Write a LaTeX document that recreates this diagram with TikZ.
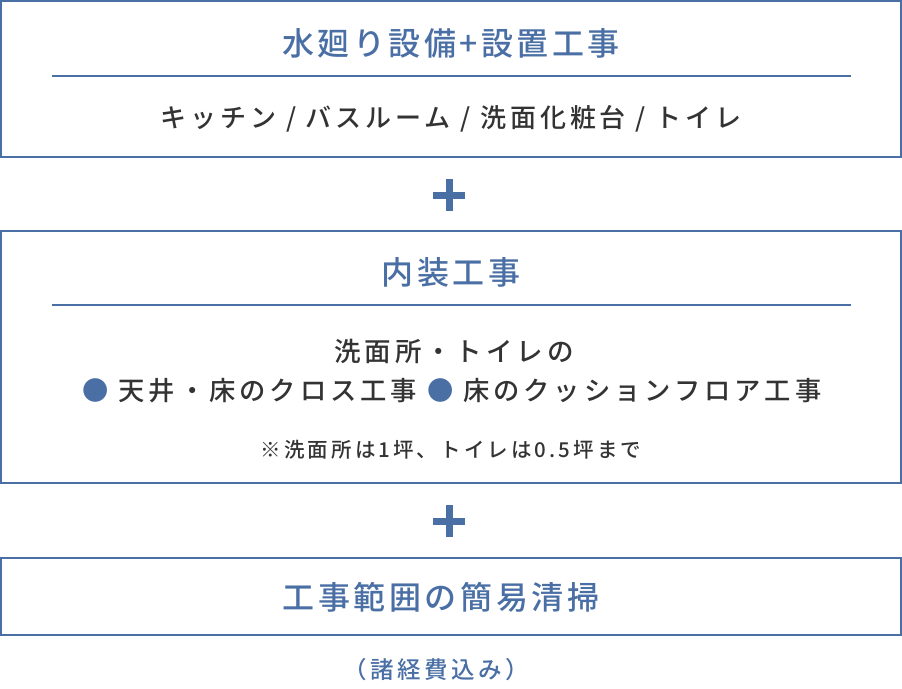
\documentclass[tikz,border=0pt]{standalone}
\usepackage{fontspec}
\setmainfont{Noto Sans CJK JP}[UprightFont={* Medium}, LetterSpace=15]
\newfontfamily\headfont{Noto Sans CJK JP}[UprightFont={* Medium}, LetterSpace=11]
\definecolor{headblue}{HTML}{4A6FA5}
\definecolor{bodygray}{HTML}{333333}
\tikzset{
  panel/.style={draw=headblue, line width=2pt, inner sep=0pt},
  heading/.style={font=\headfont\fontsize{32}{38}\selectfont, text=headblue, inner sep=0pt},
  bodytext/.style={font=\fontsize{26}{30}\selectfont, text=bodygray, inner sep=0pt},
  smalltext/.style={font=\fontsize{20.5}{24}\selectfont, text=bodygray, inner sep=0pt},
  rule/.style={draw=headblue, line width=1.5pt},
  plusbar/.style={draw=headblue, line width=7pt}
}
\begin{document}
\begin{tikzpicture}[x=1pt, y=-1pt]
\useasboundingbox (0,0) rectangle (902,688);

% First box: plumbing equipment
\node[panel, minimum width=900pt, minimum height=156pt] (box1) at (451,79) {};
\node[heading] (title1) at (451,43) {水廻り設備+設置工事};
\draw[rule] (52,76) -- (851,76);
\node[bodytext] (items1) at (451,119) {キッチン / バスルーム / 洗面化粧台 / トイレ};

% Plus sign
\draw[plusbar] (433,195) -- (465,195);
\draw[plusbar] (449,179) -- (449,211);

% Second box: interior work
\node[panel, minimum width=900pt, minimum height=252pt] (box2) at (451,357) {};
\node[heading] (title2) at (451,272) {内装工事};
\draw[rule] (52,305) -- (851,305);
\node[bodytext, font=\fontsize{26.5}{30}\selectfont] (line2a) at (454,351) {洗面所・トイレの};
\node[bodytext, font=\fontsize{26.3}{30}\selectfont] (line2b) at (452,391) {{\color{headblue}●} 天井・床のクロス工事 {\color{headblue}●} 床のクッションフロア工事};
\node[smalltext] (note2) at (451,450) {※洗面所は1坪、トイレは0.5坪まで};

% Plus sign
\draw[plusbar] (433,521) -- (465,521);
\draw[plusbar] (449,505) -- (449,537);

% Third box: cleaning
\node[panel, minimum width=900pt, minimum height=77pt] (box3) at (451,596) {};
\node[heading] (title3) at (441,597) {工事範囲の簡易清掃};
\node[smalltext, font=\fontsize{23.5}{26}\selectfont, text=headblue] (note3) at (436,670) {（諸経費込み）};
\end{tikzpicture}
\end{document}
